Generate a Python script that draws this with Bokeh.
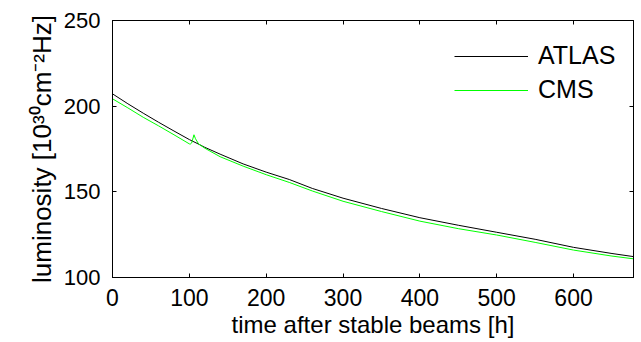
from bokeh.plotting import figure
from bokeh.models import LinearAxis, Range1d, Legend, LegendItem, FixedTicker
from bokeh.embed import file_html
from bokeh.resources import INLINE

# time after stable beams [h]
atlas_t = [0, 20, 40, 60, 80, 100, 110, 120, 140, 170, 200, 230, 260, 300, 350, 400, 450, 500, 550, 600, 650, 678]
atlas_lumi = [207.2, 201.4, 195.9, 190.6, 185.5, 180.5, 178.3, 176.0, 172.0, 166.3, 161.5, 157.2, 152.0, 146.3,
              140.3, 134.9, 130.5, 126.4, 122.3, 117.6, 114.0, 112.2]

cms_t = [0, 20, 40, 60, 80, 100, 101, 103, 106, 108, 112, 120, 140, 170, 200, 230, 260, 300, 350, 400, 450, 500,
         550, 600, 650, 678]
cms_lumi = [204.3, 199.0, 193.5, 188.5, 183.3, 178.0, 177.8, 178.5, 183.3, 181.0, 178.0, 175.5, 170.5, 165.0,
            160.0, 155.5, 150.5, 144.5, 138.5, 132.9, 128.5, 124.8, 120.5, 116.0, 112.5, 110.9]

x_ticks = [0, 100, 200, 300, 400, 500, 600]
y_ticks = [100, 150, 200, 250]

FONT = "Liberation Sans"

p = figure(width=641, height=342, output_backend="svg", toolbar_location=None,
           x_range=Range1d(0, 678), y_range=Range1d(100, 250),
           min_border_left=112, min_border_right=8, min_border_top=20, min_border_bottom=65)
p.grid.visible = False
p.outline_line_color = "black"
p.outline_line_width = 1
p.background_fill_color = "white"
p.border_fill_color = "white"

la = p.line(atlas_t, atlas_lumi, line_color="black", line_width=1)
lc = p.line(cms_t, cms_lumi, line_color="#00ff00", line_width=1)

for ax in (p.xaxis[0], p.yaxis[0]):
    ax.major_tick_in = 4
    ax.major_tick_out = 0
    ax.minor_tick_in = 0
    ax.minor_tick_out = 0
    ax.axis_line_color = "black"
    ax.major_tick_line_color = "black"
    ax.major_label_text_font = FONT
    ax.major_label_text_font_size = "22px"
    ax.major_label_text_color = "black"
    ax.axis_label_text_font = FONT
    ax.axis_label_text_font_style = "normal"
    ax.axis_label_text_color = "black"

p.xaxis[0].axis_label_text_font_size = "24px"
p.yaxis[0].axis_label_text_font_size = "26px"
p.xaxis[0].major_label_text_font_size = "23px"
p.xaxis[0].ticker = FixedTicker(ticks=x_ticks)
p.yaxis[0].ticker = FixedTicker(ticks=y_ticks)
p.xaxis[0].axis_label = "time after stable beams [h]"
p.yaxis[0].axis_label = "luminosity [10³⁰cm⁻²Hz]"
p.xaxis[0].major_label_standoff = 11
p.yaxis[0].major_label_standoff = 12
p.xaxis[0].axis_label_standoff = 2
p.yaxis[0].axis_label_standoff = 4

for loc, tk in (("right", y_ticks), ("above", x_ticks)):
    ax = LinearAxis(ticker=FixedTicker(ticks=tk))
    ax.major_tick_in = 4
    ax.major_tick_out = 0
    ax.minor_tick_in = 0
    ax.minor_tick_out = 0
    ax.major_label_overrides = {t: "" for t in tk}
    ax.major_label_standoff = 0
    ax.axis_line_color = "black"
    p.add_layout(ax, loc)

legend = Legend(items=[LegendItem(label="ATLAS", renderers=[la]),
                       LegendItem(label="CMS", renderers=[lc])],
                location=(342, 173))
legend.border_line_color = None
legend.background_fill_alpha = 0
legend.label_text_font = FONT
legend.label_text_font_size = "25px"
legend.label_text_color = "black"
legend.glyph_width = 74
legend.glyph_height = 24
legend.label_height = 24
legend.label_standoff = 10
legend.spacing = 5
legend.padding = 0
legend.margin = 0
p.add_layout(legend, "center")

open("out.html", "w").write(file_html(p, INLINE))
